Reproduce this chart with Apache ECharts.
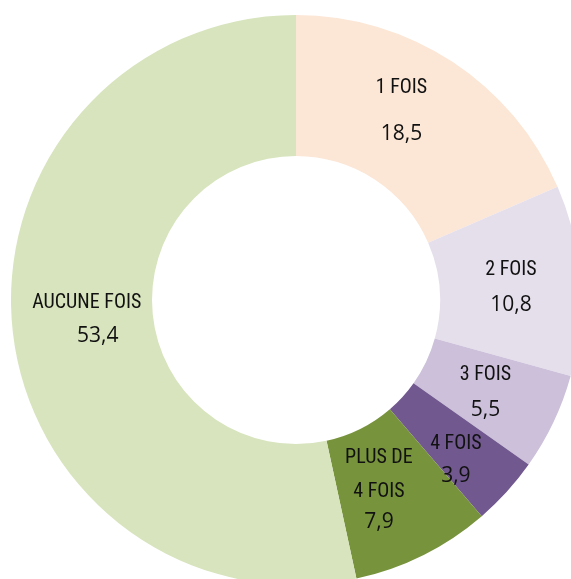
<!DOCTYPE html>
<html>
<head>
<meta charset="utf-8">
<script src="https://cdn.jsdelivr.net/npm/echarts@6/dist/echarts.min.js"></script>
<style>
  html, body { margin: 0; padding: 0; background: #fff; }
  #chart { width: 571px; height: 579px; }
</style>
</head>
<body>
<div id="chart"></div>
<script>
// données (%)
const categories = ['1 FOIS', '2 FOIS', '3 FOIS', '4 FOIS', 'PLUS DE\n4 FOIS', 'AUCUNE FOIS'];
const values = [18.5, 10.8, 5.5, 3.9, 7.9, 53.4];
const colors = ['#fce6d6', '#e5dfec', '#ccc0da', '#71588f', '#77933c', '#d7e4bd'];

// petits décalages des étiquettes pour coller à l'original
const labelOffsets = [[-14, 5], [-2, 9], [-7, 6], [-1, 19], [-14, -7], [7, 2]];
const gaps = [46, 35, 35, 32, 30, 33];
const valuePad = [0, 0, 0, 0, 0, 22];

const chart = echarts.init(document.getElementById('chart'));

const data = categories.map((name, i) => ({
  name: name,
  value: values[i],
  itemStyle: { color: colors[i] },
  label: {
    offset: labelOffsets[i],
    rich: {
      n: { fontFamily: 'Roboto, sans-serif', fontStyle: 'condensed', fontSize: 20, color: '#111', lineHeight: i === 4 ? 34 : 22 },
      v: { fontFamily: '"Open Sans", sans-serif', fontSize: 21, color: '#111',
           lineHeight: i === 4 ? 26 : gaps[i] * 2 - 22, padding: [0, 0, 0, valuePad[i]] }
    }
  }
}));

chart.setOption({
  animation: false,
  series: [{
    type: 'pie',
    center: [296, 300],
    radius: [144, 285],
    startAngle: 90,
    clockwise: true,
    avoidLabelOverlap: false,
    label: {
      show: true,
      position: 'inside',
      formatter: p => '{n|' + p.name.split('\n').join('}\n{n|') + '}\n{v|' + p.value.toFixed(1).replace('.', ',') + '}'
    },
    labelLine: { show: false },
    emphasis: { disabled: true },
    data: data
  }]
});
</script>
</body>
</html>
